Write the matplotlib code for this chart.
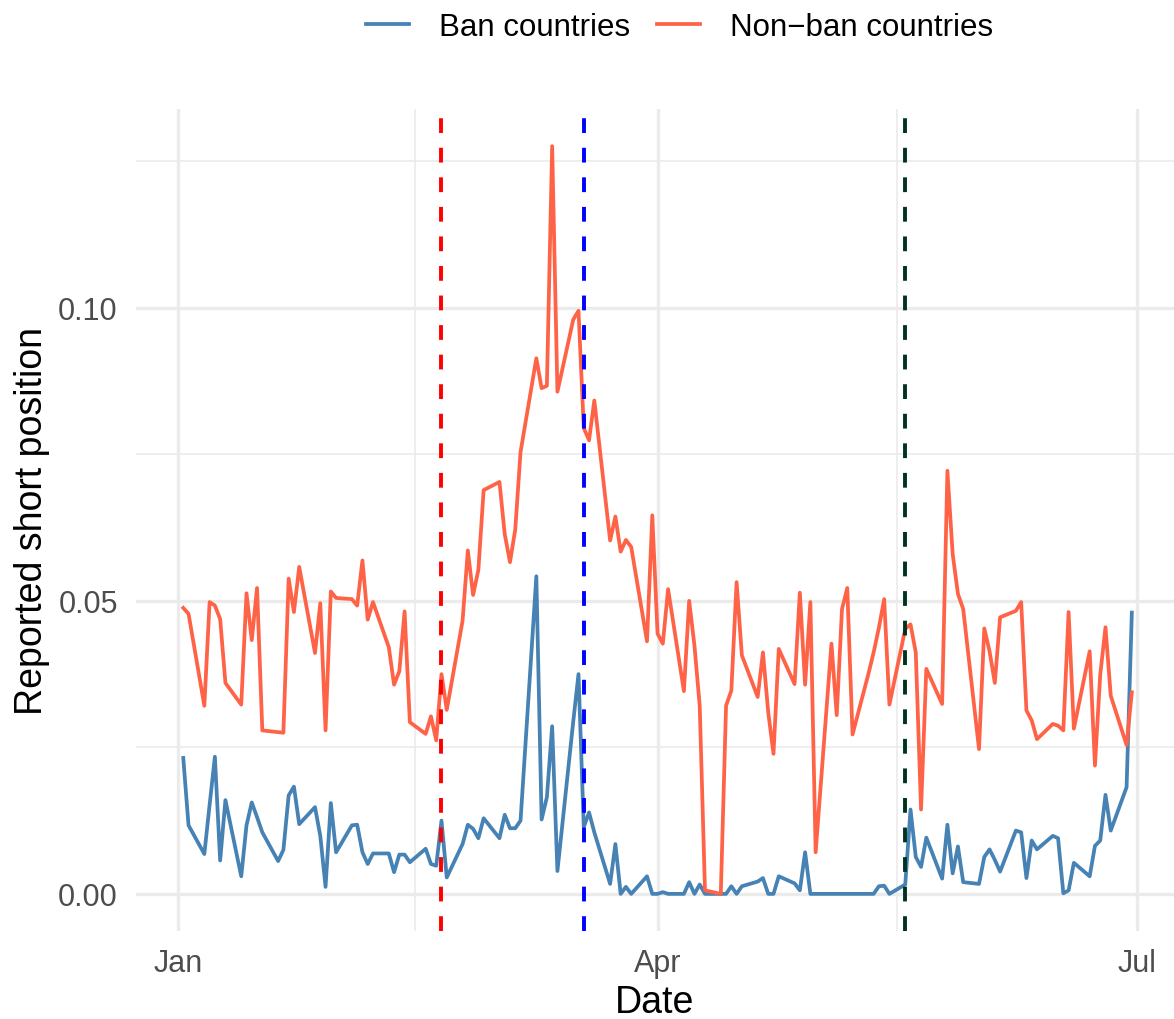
import numpy as np
import pandas as pd
import matplotlib
matplotlib.use("Agg")
import matplotlib.pyplot as plt
import matplotlib.dates as mdates

plt.rcParams['font.family'] = ['Liberation Sans', 'DejaVu Sans']

# Jours ouvrés du 2 janvier au 30 juin 2020
dates = pd.bdate_range("2020-01-02", "2020-06-30")

# Position courte déclarée - pays sans interdiction
non_ban = [
    # janvier
    0.0488, 0.0478, 0.0321, 0.0498, 0.0492, 0.0469, 0.0360, 0.0323, 0.0513, 0.0433, 0.0522,
    0.0279, 0.0276, 0.0275, 0.0538, 0.0481, 0.0558, 0.0411, 0.0496, 0.0279, 0.0516, 0.0505,
    # fevrier
    0.0503, 0.0492, 0.0569, 0.0468, 0.0498, 0.0421, 0.0357, 0.0380, 0.0482, 0.0293,
    0.0273, 0.0303, 0.0262, 0.0375, 0.0314, 0.0466, 0.0586, 0.0510, 0.0553, 0.0689,
    # mars
    0.0703, 0.0614, 0.0566, 0.0622, 0.0754, 0.0914, 0.0863, 0.0867, 0.1276, 0.0857, 0.0980,
    0.0995, 0.0795, 0.0774, 0.0842, 0.0603, 0.0644, 0.0584, 0.0604, 0.0592, 0.0431, 0.0646,
    # avril
    0.0444, 0.0427, 0.0520, 0.0346, 0.0500, 0.0424, 0.0321, 0.0006, 0.0000, 0.0321, 0.0347,
    0.0532, 0.0407, 0.0336, 0.0412, 0.0310, 0.0239, 0.0418, 0.0358, 0.0514, 0.0357, 0.0498,
    # mai
    0.0071, 0.0427, 0.0305, 0.0486, 0.0522, 0.0272, 0.0375, 0.0412, 0.0454, 0.0503, 0.0323,
    0.0452, 0.0460, 0.0412, 0.0144, 0.0384, 0.0324, 0.0722, 0.0580, 0.0512, 0.0486,
    # juin
    0.0247, 0.0453, 0.0414, 0.0360, 0.0472, 0.0483, 0.0498, 0.0313, 0.0296, 0.0264, 0.0290,
    0.0287, 0.0279, 0.0481, 0.0282, 0.0414, 0.0219, 0.0374, 0.0455, 0.0338, 0.0254, 0.0344,
]

# Position courte déclarée - pays avec interdiction
ban = [
    # janvier
    0.0232, 0.0117, 0.0068, 0.0152, 0.0234, 0.0057, 0.0160, 0.0030, 0.0117, 0.0156, 0.0131,
    0.0105, 0.0056, 0.0075, 0.0168, 0.0183, 0.0119, 0.0148, 0.0099, 0.0012, 0.0155, 0.0071,
    # fevrier
    0.0117, 0.0118, 0.0071, 0.0051, 0.0069, 0.0069, 0.0037, 0.0067, 0.0067, 0.0054,
    0.0077, 0.0051, 0.0048, 0.0125, 0.0028, 0.0085, 0.0118, 0.0111, 0.0095, 0.0129,
    # mars
    0.0095, 0.0135, 0.0112, 0.0112, 0.0125, 0.0542, 0.0127, 0.0165, 0.0286, 0.0039, 0.0294,
    0.0375, 0.0114, 0.0139, 0.0105, 0.0017, 0.0085, 0.0000, 0.0012, 0.0000, 0.0030, 0.0000,
    # avril
    0.0000, 0.0003, 0.0000, 0.0000, 0.0020, 0.0000, 0.0016, 0.0000, 0.0000, 0.0000, 0.0013,
    0.0000, 0.0013, 0.0021, 0.0027, 0.0000, 0.0000, 0.0030, 0.0018, 0.0006, 0.0071, 0.0000,
    # mai
    0.0000, 0.0000, 0.0000, 0.0000, 0.0000, 0.0000, 0.0000, 0.0000, 0.0013, 0.0014, 0.0000,
    0.0016, 0.0144, 0.0063, 0.0046, 0.0096, 0.0026, 0.0118, 0.0035, 0.0081, 0.0020,
    # juin
    0.0017, 0.0063, 0.0076, 0.0058, 0.0038, 0.0108, 0.0105, 0.0027, 0.0091, 0.0076, 0.0099,
    0.0095, 0.0001, 0.0006, 0.0053, 0.0030, 0.0082, 0.0091, 0.0169, 0.0108, 0.0182, 0.0480,
]

# Dates des événements (lignes verticales)
events = ["2020-02-20", "2020-03-18", "2020-05-18"]
event_colors = ["#FF0000", "#0000FF", "#00331F"]

series_labels = ["Ban countries", "Non\u2212ban countries"]
series_colors = ["#4682B4", "#FF6347"]

fig = plt.figure(figsize=(11.74, 10.2), dpi=100)
ax = fig.add_axes([0.1157, 0.0859, 0.8843, 0.8066])

grid_col = "#EBEBEB"
# grilles style theme_minimal
for d in ["2020-01-01", "2020-04-01", "2020-07-01"]:
    ax.axvline(pd.Timestamp(d), color=grid_col, lw=2.4, zorder=0)
for d in ["2020-02-15", "2020-05-16 12:00"]:
    ax.axvline(pd.Timestamp(d), color=grid_col, lw=1.2, zorder=0)
for v in [0.0, 0.05, 0.10]:
    ax.axhline(v, color=grid_col, lw=2.4, zorder=0)
for v in [0.025, 0.075, 0.125]:
    ax.axhline(v, color=grid_col, lw=1.2, zorder=0)

ax.plot(dates, ban, color=series_colors[0], lw=2.7, label=series_labels[0], zorder=2)
ax.plot(dates, non_ban, color=series_colors[1], lw=2.7, label=series_labels[1], zorder=2)

for d, c in zip(events, event_colors):
    ax.axvline(pd.Timestamp(d), color=c, lw=2.8, ls=(0, (3.8, 3.8)), zorder=3)

ax.set_xlim(pd.Timestamp("2020-01-01") - pd.Timedelta(days=8.0),
            pd.Timestamp("2020-01-01") + pd.Timedelta(days=189.0))
ax.set_ylim(-0.0064, 0.1340)

ax.set_xticks([pd.Timestamp("2020-01-01"), pd.Timestamp("2020-04-01"), pd.Timestamp("2020-07-01")])
ax.xaxis.set_major_formatter(mdates.DateFormatter("%b"))
ax.set_yticks([0.0, 0.05, 0.10])
ax.set_yticklabels(["0.00", "0.05", "0.10"])
ax.tick_params(length=0, labelsize=22, labelcolor="#4D4D4D")
ax.tick_params(axis="x", pad=12)
ax.tick_params(axis="y", pad=13)
for s in ax.spines.values():
    s.set_visible(False)

ax.set_xlabel("Date", fontsize=27, labelpad=4)
ax.set_ylabel("Reported short position", fontsize=27, labelpad=6)

fig.legend(loc="upper center", bbox_to_anchor=(0.579, 1.015), ncol=2, frameon=False,
           fontsize=22.5, handlelength=1.38, columnspacing=0.86, handletextpad=0.96)

fig.savefig("out.png", dpi=100)
